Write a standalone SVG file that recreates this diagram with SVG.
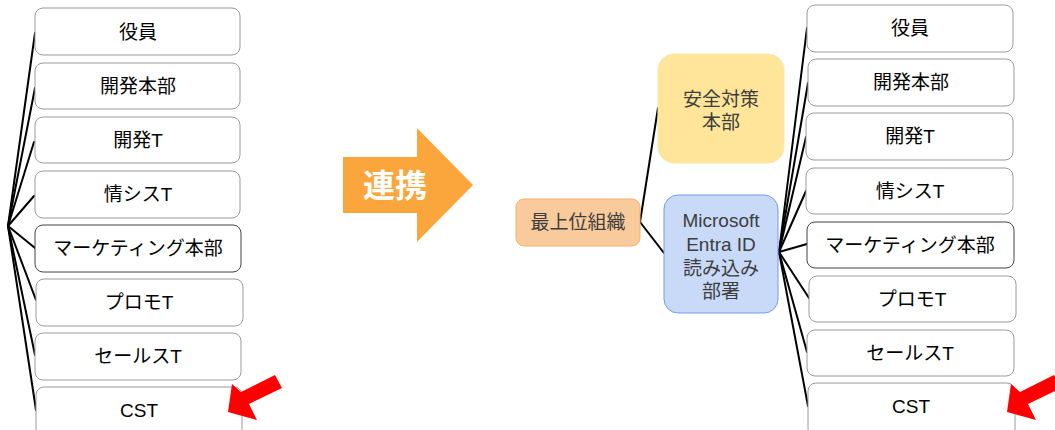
<svg xmlns="http://www.w3.org/2000/svg" width="1055" height="430" viewBox="0 0 1055 430">
<style>
.box{fill:#fff;stroke:#9a9a9a;stroke-width:1}
.dark{stroke:#444}
.t{font-family:"Liberation Sans","Noto Sans CJK JP",sans-serif;font-size:19px;fill:#000;text-anchor:middle;dominant-baseline:central}
.g{fill:#3d3d3d}
.conn line{stroke:#000;stroke-width:2;stroke-linecap:round}
.red{fill:#ff0000}
</style>
<rect width="1055" height="430" fill="#fff"/>
<g id="connectors" class="conn">
<line x1="8" y1="226" x2="35" y2="33"/>
<line x1="8" y1="226" x2="35" y2="88"/>
<line x1="8" y1="226" x2="34" y2="142"/>
<line x1="8" y1="226" x2="34" y2="196"/>
<line x1="8" y1="226" x2="35" y2="248"/>
<line x1="8" y1="226" x2="36" y2="300"/>
<line x1="8" y1="226" x2="35" y2="355"/>
<line x1="8" y1="226" x2="36" y2="410"/>
<line x1="640" y1="222" x2="658" y2="108"/>
<line x1="640" y1="222" x2="664" y2="253"/>
<line x1="779" y1="252" x2="807" y2="28"/>
<line x1="779" y1="252" x2="808" y2="83"/>
<line x1="779" y1="252" x2="806" y2="137"/>
<line x1="779" y1="252" x2="806" y2="191"/>
<line x1="779" y1="252" x2="807" y2="244"/>
<line x1="779" y1="252" x2="809" y2="298"/>
<line x1="779" y1="252" x2="807" y2="352"/>
<line x1="779" y1="252" x2="808" y2="406"/>
</g>
<g id="L1"><rect class="box" x="35" y="8" width="205" height="47" rx="8"/><text class="t" x="138" y="32">役員</text></g>
<g id="L2"><rect class="box" x="35" y="63" width="205" height="46" rx="8"/><text class="t" x="138" y="86">開発本部</text></g>
<g id="L3"><rect class="box" x="35" y="117" width="205" height="46" rx="8"/><text class="t" x="138" y="140">開発T</text></g>
<g id="L4"><rect class="box" x="35" y="171" width="205" height="47" rx="8"/><text class="t" x="138" y="194">情シスT</text></g>
<g id="L5"><rect class="box dark" x="35" y="225" width="206" height="47" rx="8"/><text class="t" x="138" y="248">マーケティング本部</text></g>
<g id="L6"><rect class="box" x="36" y="279" width="207" height="47" rx="8"/><text class="t" x="139" y="302">プロモT</text></g>
<g id="L7"><rect class="box" x="35" y="333" width="206" height="47" rx="8"/><text class="t" x="138" y="356">セールスT</text></g>
<g id="L8"><rect class="box" x="36" y="387" width="206" height="50" rx="8"/><text class="t" x="139" y="410">CST</text></g>
<g id="link-arrow">
<polygon points="343,157 417,157 417,128 473,185 417,242 417,213 343,213" fill="#FBA63C"/>
<text x="395" y="186" font-family="Liberation Sans,Noto Sans CJK JP,sans-serif" font-size="32" font-weight="bold" fill="#fff" text-anchor="middle" dominant-baseline="central">連携</text>
</g>
<g id="top"><rect x="516" y="199" width="124" height="47" rx="8" fill="#F9CB9C" stroke="#F6B26B"/><text class="t g" x="578" y="222">最上位組織</text></g>
<g id="safety"><rect x="658" y="54" width="126" height="109" rx="16" fill="#FFE599" stroke="#FBE7A8"/><text class="t g" x="721" y="99">安全対策</text><text class="t g" x="721" y="122">本部</text></g>
<g id="entra"><rect x="664" y="195" width="114" height="118" rx="14" fill="#C9DAF8" stroke="#6D9EEB"/><text class="t g" x="721" y="220">Microsoft</text><text class="t g" x="721" y="244">Entra ID</text><text class="t g" x="721" y="268">読み込み</text><text class="t g" x="721" y="291">部署</text></g>
<g id="R1"><rect class="box" x="807" y="5" width="206" height="47" rx="8"/><text class="t" x="910" y="28">役員</text></g>
<g id="R2"><rect class="box" x="808" y="59" width="206" height="47" rx="8"/><text class="t" x="911" y="82">開発本部</text></g>
<g id="R3"><rect class="box" x="806" y="113" width="207" height="47" rx="8"/><text class="t" x="910" y="136">開発T</text></g>
<g id="R4"><rect class="box" x="806" y="168" width="207" height="46" rx="8"/><text class="t" x="910" y="191">情シスT</text></g>
<g id="R5"><rect class="box dark" x="807" y="222" width="207" height="46" rx="8"/><text class="t" x="910" y="245">マーケティング本部</text></g>
<g id="R6"><rect class="box" x="809" y="276" width="207" height="46" rx="8"/><text class="t" x="912" y="299">プロモT</text></g>
<g id="R7"><rect class="box" x="807" y="330" width="207" height="46" rx="8"/><text class="t" x="910" y="353">セールスT</text></g>
<g id="R8"><rect class="box" x="808" y="383" width="207" height="54" rx="8"/><text class="t" x="911" y="406">CST</text></g>
<g id="red-arrows">
<polygon class="red" points="228,412 232,384 241,392 275,375 282,388 249,404 257,420"/>
<polygon class="red" points="1007,412 1011,384 1020,392 1054,375 1061,388 1028,404 1036,420"/>
</g>
</svg>
